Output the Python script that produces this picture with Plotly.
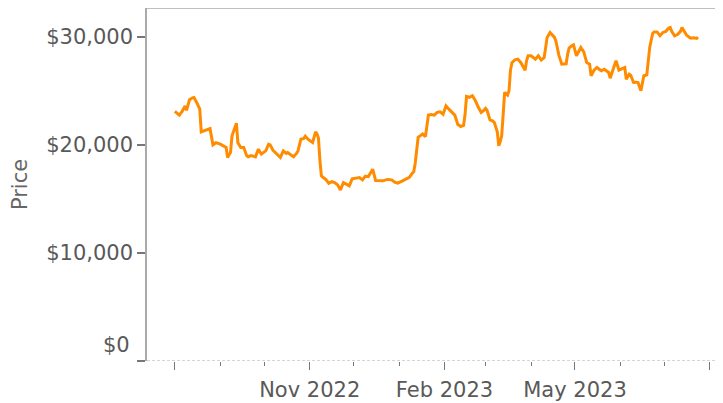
import plotly.graph_objects as go

# --- data ---
dates = [
    "2022-08-01", "2022-08-03", "2022-08-04", "2022-08-06", "2022-08-08", "2022-08-09",
    "2022-08-11", "2022-08-13", "2022-08-14", "2022-08-16", "2022-08-18", "2022-08-19",
    "2022-08-21", "2022-08-24", "2022-08-25", "2022-08-27", "2022-08-29", "2022-09-01",
    "2022-09-03", "2022-09-05", "2022-09-06", "2022-09-08", "2022-09-09", "2022-09-11",
    "2022-09-12", "2022-09-13", "2022-09-15", "2022-09-17", "2022-09-19", "2022-09-20",
    "2022-09-22", "2022-09-25", "2022-09-27", "2022-09-29", "2022-10-01", "2022-10-02",
    "2022-10-04", "2022-10-05", "2022-10-07", "2022-10-08", "2022-10-10", "2022-10-12",
    "2022-10-14", "2022-10-16", "2022-10-17", "2022-10-19", "2022-10-21", "2022-10-23",
    "2022-10-24", "2022-10-26", "2022-10-28", "2022-10-29", "2022-10-31", "2022-11-03",
    "2022-11-05", "2022-11-06", "2022-11-07", "2022-11-08", "2022-11-09", "2022-11-10",
    "2022-11-12", "2022-11-14", "2022-11-16", "2022-11-18", "2022-11-20", "2022-11-22",
    "2022-11-24", "2022-11-26", "2022-11-28", "2022-11-30", "2022-12-01", "2022-12-03",
    "2022-12-05", "2022-12-07", "2022-12-09", "2022-12-11", "2022-12-13", "2022-12-14",
    "2022-12-16", "2022-12-19", "2022-12-21", "2022-12-24", "2022-12-27", "2022-12-29",
    "2022-12-31", "2023-01-03", "2023-01-05", "2023-01-08", "2023-01-10", "2023-01-11",
    "2023-01-12", "2023-01-13", "2023-01-14", "2023-01-16", "2023-01-17", "2023-01-19",
    "2023-01-20", "2023-01-21", "2023-01-23", "2023-01-25", "2023-01-27", "2023-01-29",
    "2023-01-31", "2023-02-02", "2023-02-04", "2023-02-06", "2023-02-08", "2023-02-10",
    "2023-02-12", "2023-02-14", "2023-02-15", "2023-02-16", "2023-02-18", "2023-02-20",
    "2023-02-22", "2023-02-24", "2023-02-26", "2023-02-28", "2023-03-01", "2023-03-02",
    "2023-03-04", "2023-03-06", "2023-03-07", "2023-03-09", "2023-03-10", "2023-03-11",
    "2023-03-12", "2023-03-13", "2023-03-14", "2023-03-16", "2023-03-17", "2023-03-18",
    "2023-03-19", "2023-03-21", "2023-03-23", "2023-03-25", "2023-03-27", "2023-03-28",
    "2023-03-29", "2023-03-30", "2023-04-01", "2023-04-03", "2023-04-04", "2023-04-06",
    "2023-04-08", "2023-04-10", "2023-04-11", "2023-04-12", "2023-04-14", "2023-04-16",
    "2023-04-17", "2023-04-18", "2023-04-19", "2023-04-20", "2023-04-22", "2023-04-24",
    "2023-04-25", "2023-04-26", "2023-04-27", "2023-04-29", "2023-04-30", "2023-05-02",
    "2023-05-04", "2023-05-05", "2023-05-07", "2023-05-08", "2023-05-09", "2023-05-11",
    "2023-05-12", "2023-05-14", "2023-05-16", "2023-05-18", "2023-05-19", "2023-05-21",
    "2023-05-22", "2023-05-24", "2023-05-25", "2023-05-27", "2023-05-29", "2023-05-31",
    "2023-06-02", "2023-06-04", "2023-06-05", "2023-06-07", "2023-06-08", "2023-06-10",
    "2023-06-12", "2023-06-13", "2023-06-15", "2023-06-17", "2023-06-19", "2023-06-20",
    "2023-06-21", "2023-06-23", "2023-06-24", "2023-06-26", "2023-06-27", "2023-06-28",
    "2023-06-30", "2023-07-02", "2023-07-04", "2023-07-05", "2023-07-06", "2023-07-08",
    "2023-07-10", "2023-07-12", "2023-07-13", "2023-07-14", "2023-07-16", "2023-07-18",
    "2023-07-19", "2023-07-21", "2023-07-23", "2023-07-24",
]
prices = [
    23100, 22900, 22750, 23100, 23600, 23200,
    24170, 24350, 24380, 23900, 23300, 21200,
    21300, 21450, 21500, 20000, 20200, 20060,
    19900, 19750, 18830, 19300, 20830, 21700,
    22000, 20200, 19750, 19750, 19000, 18900,
    19000, 18890, 19600, 19140, 19300, 19440,
    20060, 20000, 19500, 19350, 19100, 18830,
    19440, 19200, 19290, 19100, 18900, 19200,
    19440, 20520, 20600, 20800, 20500, 20210,
    21200, 21000, 20600, 18500, 17130, 17000,
    16800, 16450, 16600, 16500, 16300, 15830,
    16500, 16360, 16200, 16850, 16880, 16900,
    16970, 16760, 17100, 17060, 17500, 17750,
    16700, 16650, 16670, 16800, 16760, 16550,
    16450, 16650, 16760, 17000, 17380, 17500,
    18300, 19700, 20700, 20900, 21000, 20770,
    21800, 22750, 22800, 22750, 23000, 23060,
    22840, 23610, 23300, 22990, 22750, 21900,
    21700, 21800, 22800, 24470, 24400, 24540,
    24100, 23500, 22990, 23200, 23370, 23200,
    22310, 22200, 22070, 21200, 19910, 20300,
    20830, 22800, 24850, 24600, 25000, 26900,
    27600, 27870, 27930, 27620, 27100, 26910,
    27800, 28240, 28240, 28000, 27930, 28240,
    27840, 28080, 29100, 29940, 30400, 30100,
    29940, 29600, 28900, 28300, 27470, 27470,
    27500, 28400, 28950, 29200, 29260, 28240,
    28700, 29010, 28600, 28200, 27620, 27470,
    26390, 26900, 27160, 26950, 26850, 27000,
    26910, 26700, 26170, 26900, 27780, 26910,
    27000, 27160, 26070, 26540, 26450, 25770,
    25800, 25770, 25000, 26390, 26480, 27500,
    29010, 30300, 30450, 30450, 30250, 30100,
    30400, 30500, 30800, 30860, 30500, 30090,
    30200, 30500, 30860, 30600, 30180, 29950,
    29870, 29900, 29850, 29950,
]

x_range = ["2022-07-13", "2023-08-10"]
y_range = [0, 32660]

major_ticks = ["2022-08-01", "2022-11-01", "2023-02-01", "2023-05-01", "2023-08-01"]
major_labels = ["", "Nov 2022", "Feb 2023", "May 2023", ""]
minor_ticks = ["2022-09-01", "2022-10-01", "2022-12-01", "2023-01-01", "2023-03-01",
               "2023-04-01", "2023-06-01", "2023-07-01"]

y_ticks = [0, 10000, 20000, 30000]
y_labels = ["", "$10,000", "$20,000", "$30,000"]
y_bottom_label = "$0"   # sits flush above its tick, as in the reference

AXIS_GREY = "#aaaaaa"
TEXT_GREY = "#595959"
FONT = "DejaVu Sans, Verdana, sans-serif"

fig = go.Figure()

fig.add_trace(go.Scatter(
    x=dates, y=prices, mode="lines",
    line=dict(color="#ff8c00", width=3),
    showlegend=False,
))

# dashed baseline at $0 and solid line along the top edge
fig.add_shape(type="line", xref="paper", yref="y", x0=0, x1=1, y0=0, y1=0,
              line=dict(color=AXIS_GREY, width=1, dash="3px,2px"))
fig.add_shape(type="line", xref="paper", yref="paper", x0=0, x1=1, y0=1, y1=1,
              line=dict(color=AXIS_GREY, width=1.5))

fig.add_annotation(
    text=y_bottom_label, xref="paper", yref="y", x=0, y=y_ticks[0],
    xanchor="right", yanchor="bottom", xshift=-15, yshift=2,
    showarrow=False, font=dict(size=21, color=TEXT_GREY),
)

# the page body adds an 8px offset, so the figure is sized/margined around it
fig.update_layout(
    width=715, height=395,
    margin=dict(l=139, r=0, t=0, b=42),
    paper_bgcolor="white", plot_bgcolor="white",
    font=dict(family=FONT, size=21, color=TEXT_GREY),
)

fig.update_xaxes(
    type="date", range=x_range,
    showgrid=False, zeroline=False, showline=False,
    tickmode="array", tickvals=major_ticks, ticktext=major_labels,
    ticks="outside", ticklen=8, tickwidth=1.2, tickcolor="#777777",
    ticklabelstandoff=2,
    minor=dict(tickmode="array", tickvals=minor_ticks, ticks="outside",
               ticklen=4, tickwidth=1.2, tickcolor="#777777", showgrid=False),
    tickfont=dict(size=21, color=TEXT_GREY),
)

fig.update_yaxes(
    range=y_range,
    showgrid=False, zeroline=False,
    showline=True, linecolor=AXIS_GREY, linewidth=1.5,
    tickmode="array", tickvals=y_ticks, ticktext=y_labels,
    ticks="outside", ticklen=8, tickwidth=1.5, tickcolor="#777777",
    ticklabelstandoff=0,
    tickfont=dict(size=21, color=TEXT_GREY),
    title=dict(text="Price", standoff=18, font=dict(size=21, color="#666666")),
)

fig.write_html("out.html")
